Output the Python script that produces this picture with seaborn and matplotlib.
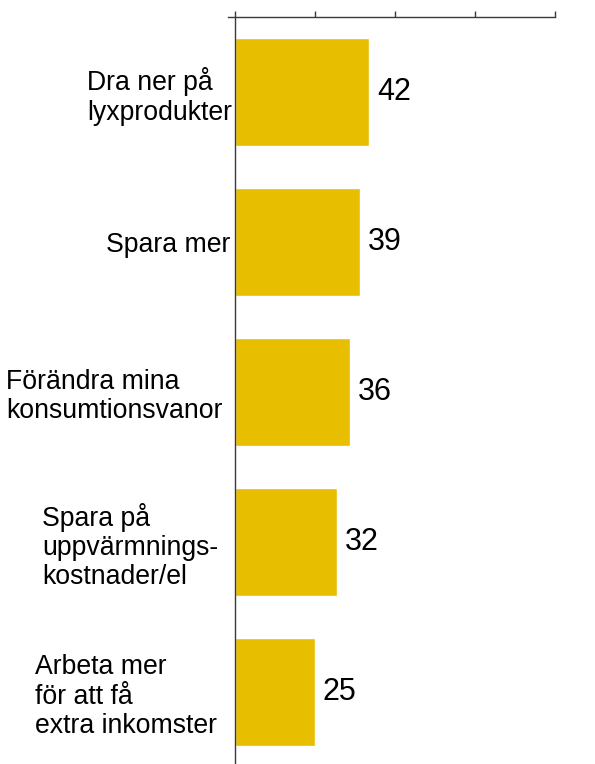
import matplotlib
matplotlib.use("Agg")
import matplotlib.pyplot as plt
import matplotlib.transforms as mtransforms
import seaborn as sns

# ---- data ----
categories = [
    "Dra ner på\nlyxprodukter",
    "Spara mer",
    "Förändra mina\nkonsumtionsvanor",
    "Spara på\nuppvärmnings-\nkostnader/el",
    "Arbeta mer\nför att få\nextra inkomster",
]
values = [42, 39, 36, 32, 25]
x_ticks = [0, 25, 50, 75, 100]

# layout only: extra horizontal shift of each category label (pixels)
label_shift_px = [0, -2, -10, -14, -15]

bar_color = "#E8BF00"
spine_color = "#3a3a3a"

sns.set_style("white")
plt.rcParams["font.family"] = ["Liberation Sans", "DejaVu Sans"]

fig = plt.figure(figsize=(5.95, 7.64), dpi=100)
ax = fig.add_axes([228 / 595, -3 / 764, 327 / 595, 750 / 764])

sns.barplot(x=values, y=categories, orient="h", color=bar_color,
            saturation=1, width=0.72, ax=ax)

# value labels
for i, v in enumerate(values):
    ax.text(v + 2.4, i, str(v), va="center", ha="left", fontsize=22, color="black")

ax.set_xlim(-2.2, 100)
ax.set_ylim(4.5, -0.5)

# spines: only top and left
for s in ["right", "bottom"]:
    ax.spines[s].set_visible(False)
for s in ["top", "left"]:
    ax.spines[s].set_color(spine_color)
    ax.spines[s].set_linewidth(1.0)
ax.spines["left"].set_position(("data", 0))

# x ticks on top, no labels
ax.xaxis.tick_top()
ax.set_xticks(x_ticks)
ax.tick_params(axis="x", which="major", direction="out", length=4,
               width=1, color=spine_color, labeltop=False, labelbottom=False)

# y: category labels without marks, separator marks as minor ticks
ax.set_yticks(range(len(categories)))
ax.set_yticklabels(categories, fontsize=19.2, color="black",
                   multialignment="left", linespacing=1.16)
ax.set_yticks([0.5, 1.5, 2.5, 3.5], minor=True)
ax.tick_params(axis="y", which="major", length=0, pad=2)
ax.tick_params(axis="y", which="minor", direction="out", length=5,
               width=1.2, color=spine_color)

for lbl, dx in zip(ax.get_yticklabels(), label_shift_px):
    off = mtransforms.ScaledTranslation(dx / 100, 0, fig.dpi_scale_trans)
    lbl.set_transform(lbl.get_transform() + off)

ax.set_xlabel("")
ax.set_ylabel("")

fig.savefig("out.png", dpi=100)
